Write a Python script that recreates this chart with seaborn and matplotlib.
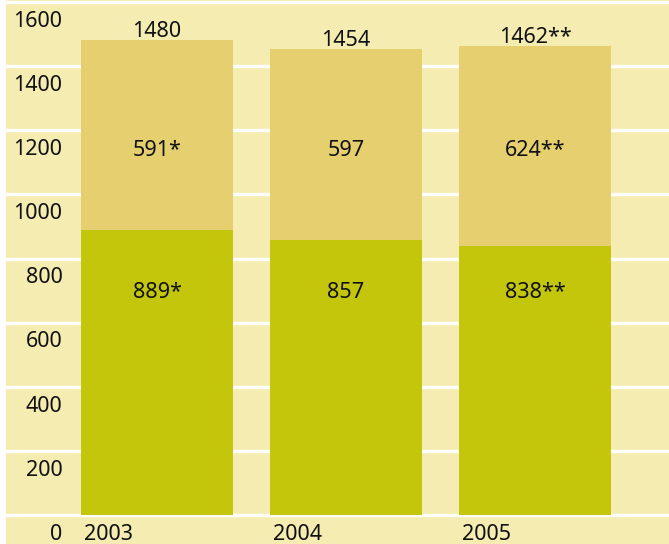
import matplotlib
matplotlib.use("Agg")
import matplotlib.pyplot as plt
import seaborn as sns
import pandas as pd

years = ["2003", "2004", "2005"]
lower_values = [889, 857, 838]
upper_values = [591, 597, 624]
totals = [1480, 1454, 1462]
lower_labels = ["889*", "857", "838**"]
upper_labels = ["591*", "597", "624**"]
total_labels = ["1480", "1454", "1462**"]
yticks = [0, 200, 400, 600, 800, 1000, 1200, 1400, 1600]

sns.set_theme(style="white")
plt.rcParams["font.family"] = ["Noto Sans", "DejaVu Sans"]

BG = "#f5ecb2"
UPPER = "#e5cf6f"
LOWER = "#c3c60b"

df = pd.DataFrame({"year": years, "lower": lower_values, "total": totals})

fig = plt.figure(figsize=(6.69, 5.44), dpi=100)
fig.patch.set_facecolor("white")
ax = fig.add_axes([6 / 669, 0, 663 / 669, 1])
ax.set_facecolor(BG)

for y in yticks:
    ax.axhline(y, color="white", lw=2.4, zorder=0)

sns.barplot(data=df, x="year", y="total", color=UPPER, saturation=1,
            width=0.804, ax=ax, zorder=2, linewidth=0, edgecolor="none")
sns.barplot(data=df, x="year", y="lower", color=LOWER, saturation=1,
            width=0.804, ax=ax, zorder=3, linewidth=0, edgecolor="none")

ax.set_xlim(-0.799, 2.709)
ax.set_ylim(-90, 1606)
ax.set_xticks([])
ax.set_yticks([])
ax.set_xlabel("")
ax.set_ylabel("")
for s in ax.spines.values():
    s.set_visible(False)

fs = 15.5
col = "#111111"
for y in yticks:
    ax.text(-0.50, y - 77, str(y), ha="right", va="baseline", fontsize=fs,
            color=col, zorder=5)

for i, yr in enumerate(years):
    ax.text(i - 0.385, -77, yr, ha="left", va="baseline", fontsize=fs,
            color=col, zorder=5)
    ax.text(i, totals[i] + 10, total_labels[i], ha="center", va="baseline",
            fontsize=fs, color=col, zorder=5)
    ax.text(i, 1119, upper_labels[i], ha="center", va="baseline",
            fontsize=fs, color=col, zorder=5)
    ax.text(i, 676, lower_labels[i], ha="center", va="baseline",
            fontsize=fs, color=col, zorder=5)

fig.savefig("out.png", dpi=100, facecolor="white")
